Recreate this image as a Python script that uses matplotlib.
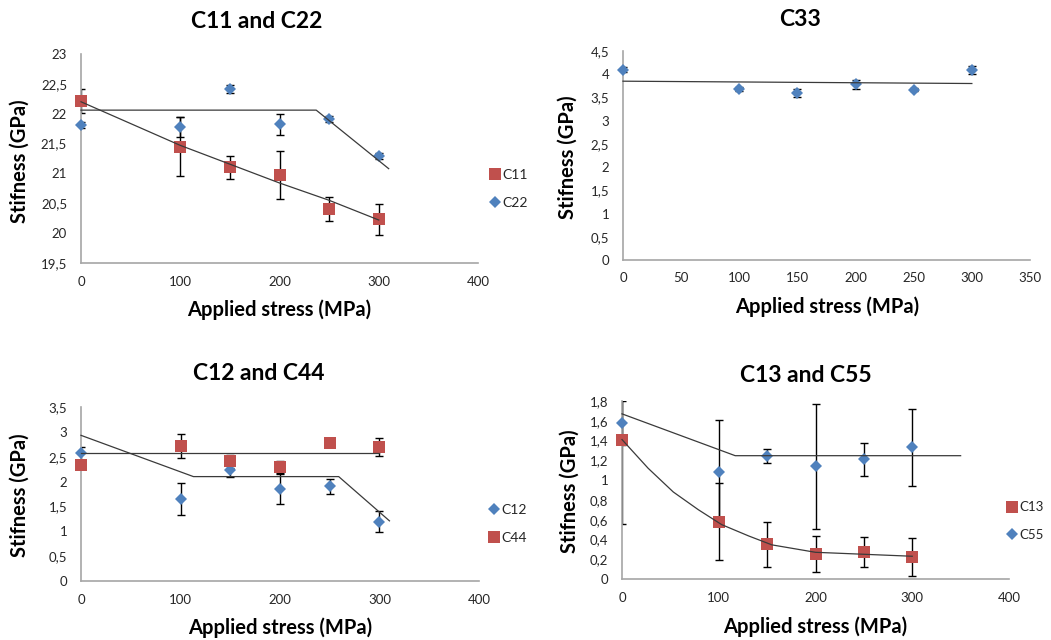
import matplotlib
matplotlib.use('Agg')
import matplotlib.pyplot as plt
from matplotlib.lines import Line2D

plt.rcParams['font.family'] = ['Lato', 'DejaVu Sans']

# applied stress (MPa)
stress = [0, 100, 150, 200, 250, 300]

# C11 / C22
c11 = [22.21, 21.45, 21.10, 20.98, 20.40, 20.23]
c11_err = [0.20, 0.50, 0.20, 0.40, 0.20, 0.26]
c22 = [21.81, 21.78, 22.41, 21.82, 21.91, 21.29]
c22_err = [0.05, 0.17, 0.07, 0.18, 0.05, 0.05]
c11_fit_x = [0, 100, 200, 250, 300]
c11_fit_y = [22.20, 21.47, 20.84, 20.55, 20.22]
c22_fit_x = [0, 237, 310]
c22_fit_y = [22.06, 22.06, 21.08]

# C33
c33 = [4.10, 3.68, 3.60, 3.78, 3.67, 4.09]
c33_err = [0.05, 0.05, 0.08, 0.10, 0.04, 0.08]
c33_fit_x = [0, 300]
c33_fit_y = [3.85, 3.80]

# C12 / C44
c12 = [2.57, 1.65, 2.24, 1.85, 1.91, 1.19]
c12_err = [0.13, 0.33, 0.15, 0.30, 0.15, 0.21]
c44 = [2.33, 2.71, 2.41, 2.29, 2.77, 2.69]
c44_err = [0.05, 0.24, 0.13, 0.12, 0.05, 0.18]
c12_fit_x = [0, 113, 259, 310]
c12_fit_y = [2.93, 2.10, 2.10, 1.21]
c44_fit_x = [0, 300]
c44_fit_y = [2.58, 2.58]

# C13 / C55
c13 = [1.41, 0.58, 0.35, 0.25, 0.27, 0.22]
c13_err = [0.85, 0.39, 0.23, 0.18, 0.15, 0.19]
c55 = [1.58, 1.08, 1.24, 1.14, 1.21, 1.33]
c55_err = [0.22, 0.53, 0.07, 0.63, 0.17, 0.39]
c13_fit_x = [0, 27, 53, 79, 103, 131, 155, 200, 250, 300]
c13_fit_y = [1.41, 1.12, 0.88, 0.70, 0.55, 0.435, 0.345, 0.27, 0.25, 0.23]
c55_fit_x = [0, 117, 350]
c55_fit_y = [1.67, 1.247, 1.247]

RED = '#C0504D'
BLUE = '#4F81BD'
TXT = '#262626'
W, H = 1051, 640

fig = plt.figure(figsize=(W / 100, H / 100), dpi=100)


def make_ax(l, r, t, b):
    ax = fig.add_axes([l / W, 1 - b / H, (r - l) / W, (b - t) / H])
    for s in ['top', 'right']:
        ax.spines[s].set_visible(False)
    for s in ['left', 'bottom']:
        ax.spines[s].set_color('#A6A6A6')
        ax.spines[s].set_linewidth(1.2)
    ax.tick_params(length=0, labelsize=9.5, colors=TXT)
    ax.tick_params(axis='x', pad=9)
    ax.tick_params(axis='y', pad=10)
    return ax


def comma(v):
    s = ('%g' % v)
    return s.replace('.', ',')


def series(ax, y, err, color, marker, ms):
    ax.errorbar(stress, y, yerr=err, fmt='none', ecolor='black', elinewidth=1,
                capsize=3, capthick=1, zorder=2)
    ax.plot(stress, y, linestyle='none', marker=marker, color=color,
            markersize=ms, markeredgewidth=0, zorder=3, clip_on=False)


def fit(ax, x, y):
    ax.plot(x, y, color='#3A3A3A', linewidth=0.9, zorder=4, clip_on=False)


def labels(title, tx, ty, xl, xly, ylx, yly):
    fig.text(tx / W, 1 - ty / H, title, ha='center', va='center',
             fontsize=16.5, fontweight='bold', color='black')
    fig.text(xl / W, 1 - xly / H, 'Applied stress (MPa)', ha='center', va='center',
             fontsize=14.5, fontweight='bold', color='black')
    fig.text(ylx / W, 1 - yly / H, 'Stifness (GPa)', ha='center', va='center',
             rotation=90, fontsize=14.5, fontweight='bold', color='black')


def legend(ax, names, colors, markers, sizes, x, y, fs=10):
    hs = [Line2D([], [], linestyle='none', marker=m, color=c, markersize=s,
                 markeredgewidth=0) for c, m, s in zip(colors, markers, sizes)]
    ax.legend(hs, names, loc='center left', bbox_to_anchor=(x / W, 1 - y / H),
              bbox_transform=fig.transFigure, frameon=False, fontsize=fs,
              handlelength=0.8, handletextpad=0.15, labelspacing=1.15,
              borderpad=0, labelcolor=TXT)


def yticks(ax, ticks):
    ax.set_yticks(ticks)
    ax.set_yticklabels([comma(t) for t in ticks])


# panel 1
ax1 = make_ax(81, 478, 54, 263)
series(ax1, c22, c22_err, BLUE, 'D', 6)
series(ax1, c11, c11_err, RED, 's', 8)
fit(ax1, c11_fit_x, c11_fit_y)
fit(ax1, c22_fit_x, c22_fit_y)
ax1.set_xlim(0, 400)
ax1.set_ylim(19.5, 23)
ax1.set_xticks([0, 100, 200, 300, 400])
yticks(ax1, [19.5, 20, 20.5, 21, 21.5, 22, 22.5, 23])
labels('C11 and C22', 257, 22, 279, 310, 20, 161)
legend(ax1, ['C11', 'C22'], [RED, BLUE], ['s', 'D'], [8, 6], 482, 189)

# panel 2
ax2 = make_ax(623, 1030, 51, 260)
series(ax2, c33, c33_err, BLUE, 'D', 6)
fit(ax2, c33_fit_x, c33_fit_y)
ax2.set_xlim(0, 350)
ax2.set_ylim(0, 4.5)
ax2.set_xticks([0, 50, 100, 150, 200, 250, 300, 350])
yticks(ax2, [0, 0.5, 1, 1.5, 2, 2.5, 3, 3.5, 4, 4.5])
labels('C33', 800, 20, 827, 307, 568, 157)

# panel 3
ax3 = make_ax(81, 479, 407, 581)
series(ax3, c12, c12_err, BLUE, 'D', 6)
series(ax3, c44, c44_err, RED, 's', 8)
fit(ax3, c12_fit_x, c12_fit_y)
fit(ax3, c44_fit_x, c44_fit_y)
ax3.set_xlim(0, 400)
ax3.set_ylim(0, 3.5)
ax3.set_xticks([0, 100, 200, 300, 400])
yticks(ax3, [0, 0.5, 1, 1.5, 2, 2.5, 3, 3.5])
labels('C12 and C44', 259, 373, 280, 628, 20, 495)
legend(ax3, ['C12', 'C44'], [BLUE, RED], ['D', 's'], [6, 8], 481, 524)

# panel 4 (legend pulled in so its labels stay inside the figure)
ax4 = make_ax(622, 1009, 401, 579)
series(ax4, c55, c55_err, BLUE, 'D', 6)
series(ax4, c13, c13_err, RED, 's', 8)
fit(ax4, c13_fit_x, c13_fit_y)
fit(ax4, c55_fit_x, c55_fit_y)
ax4.set_xlim(0, 400)
ax4.set_ylim(0, 1.8)
ax4.set_xticks([0, 100, 200, 300, 400])
yticks(ax4, [0, 0.2, 0.4, 0.6, 0.8, 1, 1.2, 1.4, 1.6, 1.8])
labels('C13 and C55', 806, 375, 815, 627, 570, 491)
legend(ax4, ['C13', 'C55'], [RED, BLUE], ['s', 'D'], [8, 6], 1000, 521, fs=9.5)

fig.savefig('out.png', dpi=100)
